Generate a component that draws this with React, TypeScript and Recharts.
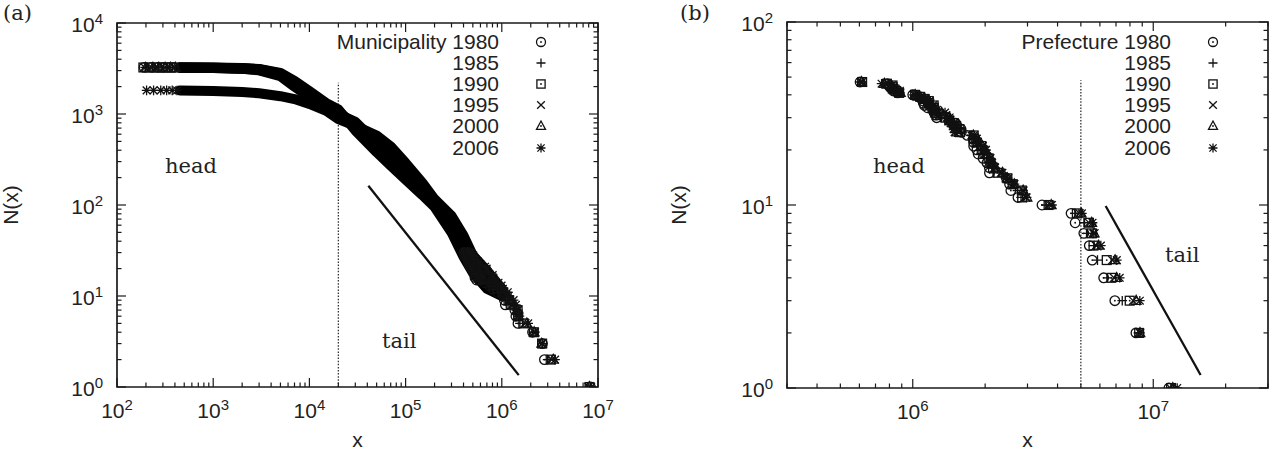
import React from 'react';
import {
  ScatterChart,
  Scatter,
  XAxis,
  YAxis,
  ReferenceLine,
  ReferenceArea,
  Legend,
  Customized,
} from 'recharts';

// ---------------- shared labels ----------------
const MARKER_KINDS = ['circle', 'plus', 'square', 'cross', 'triangle', 'star'];
const LEGEND_A = ['Municipality 1980', '1985', '1990', '1995', '2000', '2006'];
const LEGEND_B = ['Prefecture 1980', '1985', '1990', '1995', '2000', '2006'];

// ---------------- panel (a): municipalities ----------------
const A_X_MAJOR = [1e2, 1e3, 1e4, 1e5, 1e6, 1e7];
const A_Y_MAJOR = [1, 10, 100, 1000, 10000];

// smallest villages (x = population, N = rank from the top)
const A_HEAD_1980 = [[191, 3255], [226, 3254], [262, 3253], [298, 3252], [340, 3251], [390, 3250]];
const A_HEAD_1985 = [[196, 3253], [233, 3252], [270, 3251], [305, 3250], [352, 3249], [400, 3248]];
const A_HEAD_1990 = [[188, 3246], [220, 3245], [258, 3244], [296, 3243], [338, 3242], [392, 3241]];
const A_HEAD_1995 = [[194, 3234], [230, 3233], [266, 3232], [310, 3231], [348, 3230], [396, 3229]];
const A_HEAD_2000 = [[199, 3230], [236, 3229], [272, 3228], [316, 3227], [360, 3226], [405, 3225]];
const A_HEAD_2006 = [[203, 1820], [240, 1819], [285, 1818], [328, 1817], [375, 1816], [420, 1815]];

// dense body of the distribution: N(x) at sampled x
const A_BODY_X = [450, 1000, 2000, 3000, 5000, 7000, 10000, 15000, 20000, 30000, 50000, 70000, 100000, 150000, 200000, 300000, 400000, 500000, 700000, 1000000];
const A_BODY_1980 = [3250, 3236, 3195, 3125, 2830, 2320, 1780, 1320, 1120, 660, 380, 270, 190, 128, 95, 50, 27, 18, 12, 10];
const A_BODY_1985 = [3248, 3233, 3185, 3105, 2780, 2250, 1720, 1290, 1090, 700, 405, 290, 205, 135, 99, 54, 30, 19, 13, 11];
const A_BODY_1990 = [3241, 3224, 3170, 3080, 2730, 2180, 1660, 1260, 1060, 740, 430, 310, 220, 142, 103, 58, 33, 20, 14, 11];
const A_BODY_1995 = [3229, 3210, 3150, 3050, 2670, 2100, 1600, 1230, 1030, 780, 455, 330, 235, 150, 107, 62, 36, 22, 15, 11];
const A_BODY_2000 = [3225, 3204, 3135, 3020, 2600, 2000, 1540, 1200, 1000, 820, 480, 350, 250, 158, 111, 68, 40, 24, 16, 12];
const A_BODY_2006 = [1815, 1795, 1745, 1690, 1570, 1460, 1290, 1080, 880, 740, 580, 440, 290, 175, 116, 76, 46, 28, 19, 12];

// largest 30 municipalities (population, thousands)
const A_TOP_1980 = [8352, 2774, 2648, 2088, 1473, 1402, 1367, 1089, 1065, 1041, 899, 810, 746, 665, 546, 526, 524, 522, 505, 490, 479, 458, 457, 447, 446, 439, 418, 410, 410, 404];
const A_TOP_1985 = [8355, 2993, 2636, 2116, 1543, 1479, 1411, 1160, 1089, 1056, 1044, 818, 789, 700, 572, 555, 530, 522, 514, 509, 507, 482, 476, 468, 452, 449, 431, 421, 418, 413];
const A_TOP_1990 = [8164, 3220, 2624, 2155, 1672, 1477, 1461, 1237, 1174, 1086, 1026, 918, 829, 808, 594, 579, 537, 535, 533, 532, 518, 499, 486, 472, 466, 454, 444, 443, 443, 427];
const A_TOP_1995 = [7968, 3307, 2602, 2152, 1757, 1464, 1424, 1285, 1203, 1109, 1020, 971, 857, 803, 650, 616, 571, 562, 546, 541, 518, 503, 495, 488, 474, 470, 463, 461, 461, 454];
const A_TOP_2000 = [8135, 3427, 2599, 2171, 1822, 1493, 1468, 1341, 1250, 1126, 1011, 1008, 887, 792, 662, 627, 606, 582, 552, 551, 536, 515, 501, 478, 473, 470, 466, 465, 460, 443];
const A_TOP_2006 = [8490, 3580, 2629, 2215, 1881, 1525, 1475, 1401, 1327, 1176, 1154, 1025, 994, 924, 831, 814, 804, 723, 702, 696, 670, 604, 570, 560, 536, 514, 514, 503, 480, 473];

const A_CUT = [{ x: 2e4, y: 1 }, { x: 2e4, y: 2200 }];
const A_SLOPE = [{ x: 4.1e4, y: 163 }, { x: 1.5e6, y: 1.35 }];

// ---------------- panel (b): prefectures (population, thousands) ----------------
const B_X_MAJOR = [1e6, 1e7];
const B_Y_MAJOR = [1, 10, 100];

const B_1980 = [5576, 1524, 1422, 2082, 1257, 1252, 2035, 2558, 1792, 1849, 5420, 4735, 11618, 6924, 2451, 1103, 1119, 794, 804, 2084, 1960, 3447, 6222, 1687, 1080, 2527, 8473, 5145, 1209, 1087, 604, 785, 1871, 2739, 1587, 825, 1000, 1507, 831, 4553, 866, 1591, 1790, 1229, 1152, 1785, 1107];
const B_1985 = [5679, 1524, 1434, 2176, 1254, 1262, 2080, 2725, 1866, 1921, 5864, 5148, 11829, 7432, 2478, 1118, 1152, 818, 833, 2137, 2029, 3575, 6455, 1747, 1156, 2587, 8668, 5278, 1305, 1087, 616, 795, 1917, 2819, 1602, 835, 1023, 1530, 840, 4719, 880, 1594, 1838, 1250, 1176, 1819, 1179];
const B_1990 = [5644, 1483, 1417, 2249, 1227, 1258, 2104, 2845, 1935, 1966, 6405, 5555, 11856, 7980, 2475, 1120, 1165, 824, 853, 2157, 2067, 3671, 6691, 1793, 1222, 2602, 8735, 5405, 1375, 1074, 616, 781, 1926, 2850, 1573, 832, 1023, 1515, 825, 4811, 878, 1563, 1840, 1237, 1169, 1798, 1222];
const B_1995 = [5692, 1482, 1420, 2329, 1214, 1257, 2134, 2956, 1984, 2004, 6759, 5798, 11774, 8246, 2488, 1123, 1180, 827, 882, 2194, 2100, 3738, 6868, 1841, 1287, 2630, 8797, 5402, 1431, 1080, 615, 771, 1951, 2882, 1556, 832, 1027, 1507, 817, 4933, 884, 1545, 1860, 1231, 1176, 1794, 1273];
const B_2000 = [5683, 1476, 1416, 2365, 1189, 1244, 2127, 2986, 2005, 2025, 6938, 5926, 12064, 8490, 2476, 1121, 1181, 829, 888, 2215, 2108, 3767, 7043, 1857, 1343, 2644, 8805, 5551, 1443, 1070, 613, 762, 1951, 2879, 1528, 824, 1023, 1493, 814, 5016, 877, 1517, 1859, 1221, 1170, 1786, 1318];
const B_2006 = [5628, 1437, 1385, 2360, 1146, 1216, 2091, 2975, 2017, 2024, 7054, 6056, 12577, 8792, 2431, 1112, 1174, 822, 885, 2196, 2107, 3792, 7255, 1867, 1380, 2648, 8817, 5591, 1421, 1036, 607, 742, 1957, 2877, 1493, 810, 1012, 1468, 796, 5050, 866, 1479, 1842, 1210, 1153, 1753, 1362];

const B_CUT = [{ x: 5e6, y: 1 }, { x: 5e6, y: 48 }];
const B_SLOPE = [{ x: 6.34e6, y: 9.87 }, { x: 1.574e7, y: 1.178 }];

// ---------------- table building ----------------
const pairs = (arr: number[][]) => arr.map(([x, y]) => ({ x, y }));
const ranked = (popsK: number[]) =>
  [...popsK].sort((a, b) => b - a).map((v, i) => ({ x: v * 1000, y: i + 1 }));
const body = (ns: number[]) => ns.map((n, i) => ({ x: A_BODY_X[i], y: n }));

const A_SERIES = [
  [...pairs(A_HEAD_1980), ...ranked(A_TOP_1980)],
  [...pairs(A_HEAD_1985), ...ranked(A_TOP_1985)],
  [...pairs(A_HEAD_1990), ...ranked(A_TOP_1990)],
  [...pairs(A_HEAD_1995), ...ranked(A_TOP_1995)],
  [...pairs(A_HEAD_2000), ...ranked(A_TOP_2000)],
  [...pairs(A_HEAD_2006), ...ranked(A_TOP_2006)],
];
const A_BODIES = [A_BODY_1980, A_BODY_1985, A_BODY_1990, A_BODY_1995, A_BODY_2000, A_BODY_2006].map(body);
const B_SERIES = [B_1980, B_1985, B_1990, B_1995, B_2000, B_2006].map(ranked);

function logTicks(lo: number, hi: number) {
  const out: number[] = [];
  for (let e = Math.floor(Math.log10(lo)); e <= Math.ceil(Math.log10(hi)); e++) {
    for (let m = 1; m <= 9; m++) {
      const v = Number((m * Math.pow(10, e)).toPrecision(6));
      if (v >= lo * 0.9999 && v <= hi * 1.0001) out.push(v);
    }
  }
  return out;
}

// ---------------- styling ----------------
const SANS = '"Liberation Sans", Arial, Helvetica, sans-serif';
const SERIF = '"DejaVu Serif", "Liberation Serif", serif';
const TXT = '#222';
const AXIS = '#1a1a1a';
const INK = '#111';
const ROW0 = 42;
const ROWH = 21.1;
const HEIGHT = 450;

function Marker({ kind, cx, cy, s = 4.8 }: { kind: string; cx: number; cy: number; s?: number }) {
  const sw = 1.3;
  const dot = <circle cx={cx} cy={cy} r={0.9} fill={INK} />;
  switch (kind) {
    case 'circle':
      return (
        <g>
          <circle cx={cx} cy={cy} r={s} fill="none" stroke={INK} strokeWidth={sw} />
          {dot}
        </g>
      );
    case 'plus':
      return <path d={`M${cx - s} ${cy}H${cx + s}M${cx} ${cy - s}V${cy + s}`} stroke={INK} strokeWidth={sw} fill="none" />;
    case 'square':
      return (
        <g>
          <rect x={cx - s + 0.4} y={cy - s + 0.4} width={2 * s - 0.8} height={2 * s - 0.8} fill="none" stroke={INK} strokeWidth={sw} />
          {dot}
        </g>
      );
    case 'cross': {
      const c = s * 0.85;
      return <path d={`M${cx - c} ${cy - c}L${cx + c} ${cy + c}M${cx - c} ${cy + c}L${cx + c} ${cy - c}`} stroke={INK} strokeWidth={sw} fill="none" />;
    }
    case 'triangle':
      return (
        <g>
          <path d={`M${cx} ${cy - s - 0.5}L${cx + s} ${cy + s * 0.75}L${cx - s} ${cy + s * 0.75}Z`} fill="none" stroke={INK} strokeWidth={sw} />
          {dot}
        </g>
      );
    default: {
      const c = s * 0.8;
      return (
        <path
          d={`M${cx - s} ${cy}H${cx + s}M${cx} ${cy - s}V${cy + s}M${cx - c} ${cy - c}L${cx + c} ${cy + c}M${cx - c} ${cy + c}L${cx + c} ${cy - c}`}
          stroke={INK}
          strokeWidth={sw}
          fill="none"
        />
      );
    }
  }
}

type Pt = { x: number; y: number };
type PanelCfg = {
  width: number;
  plot: { L: number; R: number; T: number; B: number };
  xDomain: [number, number];
  yDomain: [number, number];
  xMajor: number[];
  yMajor: number[];
  series: Pt[][];
  bodies: Pt[][];
  cut: Pt[];
  slope: Pt[];
  names: string[];
  legendRight: number;
  legendSym: number;
  letter: string;
  letterX: number;
  head: [number, number];
  tail: [number, number];
  yTitleX: number;
};

function Panel(cfg: PanelCfg) {
  const { width, plot, xDomain, yDomain, xMajor, yMajor } = cfg;
  const { L, R, T, B } = plot;
  // axes get 1px of room (an axis of size 0 is not drawn)
  const margin = { top: T, left: L - 1, right: width - R, bottom: HEIGHT - B - 1 };
  const xTicks = logTicks(xDomain[0], xDomain[1]);
  const yTicks = logTicks(yDomain[0], yDomain[1]);
  const isMajor = (list: number[], v: number) => list.some((m) => Math.abs(m - v) / m < 1e-6);

  const xTick = (props: any) => {
    const x = props.x;
    const v = props.payload.value;
    const major = isMajor(xMajor, v);
    const len = major ? 9 : 4.5;
    return (
      <g>
        <line x1={x} x2={x} y1={B} y2={B - len} stroke={AXIS} strokeWidth={1.2} />
        <line x1={x} x2={x} y1={T} y2={T + len} stroke={AXIS} strokeWidth={1.2} />
        {major && (
          <text x={x} y={B + 31} textAnchor="middle" fontFamily={SANS} fontSize={21} fill={TXT}>
            <tspan>10</tspan>
            <tspan dy={-8} fontSize={15}>
              {Math.round(Math.log10(v))}
            </tspan>
          </text>
        )}
      </g>
    );
  };

  const yTick = (props: any) => {
    const y = props.y;
    const v = props.payload.value;
    const major = isMajor(yMajor, v);
    const len = major ? 9 : 4.5;
    return (
      <g>
        <line x1={L} x2={L + len} y1={y} y2={y} stroke={AXIS} strokeWidth={1.2} />
        <line x1={R} x2={R - len} y1={y} y2={y} stroke={AXIS} strokeWidth={1.2} />
        {major && (
          <text x={L - 14} y={y + 9} textAnchor="end" fontFamily={SANS} fontSize={21} fill={TXT}>
            <tspan>10</tspan>
            <tspan dy={-8} fontSize={15}>
              {Math.round(Math.log10(v))}
            </tspan>
          </text>
        )}
      </g>
    );
  };

  const legendContent = (props: any) => {
    const items = (props.payload || []).filter((p: any) => p.type !== 'none' && cfg.names.includes(p.value));
    return (
      <div style={{ position: 'absolute', left: 0, top: 0 }}>
        {items.map((p: any) => {
          const i = cfg.names.indexOf(p.value);
          const cy = ROW0 + i * ROWH;
          return (
            <React.Fragment key={p.value}>
              <div
                style={{
                  position: 'absolute',
                  left: cfg.legendRight - 260,
                  top: cy - 12,
                  width: 260,
                  textAlign: 'right',
                  fontFamily: SANS,
                  fontSize: 21,
                  lineHeight: '24px',
                  color: TXT,
                  whiteSpace: 'nowrap',
                }}
              >
                {p.value}
              </div>
              <svg
                style={{ position: 'absolute', left: cfg.legendSym - 8, top: cy - 8, overflow: 'visible' }}
                width={16}
                height={16}
              >
                <Marker kind={MARKER_KINDS[i]} cx={8} cy={8} s={4.5} />
              </svg>
            </React.Fragment>
          );
        })}
      </div>
    );
  };

  const annotations = () => (
    <g>
      <text x={cfg.letterX} y={20} fontFamily={SERIF} fontSize={21} fill={TXT}>
        {cfg.letter}
      </text>
      <text x={cfg.head[0]} y={cfg.head[1]} fontFamily={SERIF} fontSize={21} fill={TXT}>
        head
      </text>
      <text x={cfg.tail[0]} y={cfg.tail[1]} fontFamily={SERIF} fontSize={21} fill={TXT}>
        tail
      </text>
      <text
        transform={`translate(${cfg.yTitleX},${(T + B) / 2}) rotate(-90)`}
        textAnchor="middle"
        fontFamily={SANS}
        fontSize={21}
        fill={TXT}
      >
        N(x)
      </text>
      <text x={(L + R) / 2} y={447} textAnchor="middle" fontFamily={SANS} fontSize={21} fill={TXT}>
        x
      </text>
    </g>
  );

  return (
    <ScatterChart width={width} height={HEIGHT} margin={margin}>
      <XAxis
        type="number"
        dataKey="x"
        scale="log"
        domain={xDomain}
        allowDataOverflow
        ticks={xTicks}
        interval={0}
        tick={xTick}
        tickLine={false}
        axisLine={false}
        tickSize={0}
        tickMargin={0}
        height={1}
      />
      <YAxis
        type="number"
        dataKey="y"
        scale="log"
        domain={yDomain}
        allowDataOverflow
        ticks={yTicks}
        interval={0}
        tick={yTick}
        tickLine={false}
        axisLine={false}
        tickSize={0}
        tickMargin={0}
        width={1}
      />
      <ReferenceArea
        x1={xDomain[0]}
        x2={xDomain[1]}
        y1={yDomain[0]}
        y2={yDomain[1]}
        fill="none"
        fillOpacity={0}
        stroke={AXIS}
        strokeWidth={1.7}
        ifOverflow="visible"
      />
      <ReferenceLine segment={cfg.cut} stroke="#333" strokeWidth={1.3} strokeDasharray="1.5 1.6" ifOverflow="visible" />
      <ReferenceLine segment={cfg.slope} stroke={INK} strokeWidth={2.3} ifOverflow="visible" />
      {cfg.bodies.map((d, i) => (
        <Scatter
          key={'body' + i}
          name={'body ' + i}
          data={d}
          legendType="none"
          isAnimationActive={false}
          line={{ stroke: '#000', strokeWidth: 10, strokeLinecap: 'round', strokeLinejoin: 'round' }}
          shape={() => <g />}
        />
      ))}
      {cfg.series.map((d, i) => (
        <Scatter
          key={'s' + i}
          name={cfg.names[i]}
          data={d}
          fill={INK}
          isAnimationActive={false}
          shape={(p: any) => <Marker kind={MARKER_KINDS[i]} cx={p.cx} cy={p.cy} />}
        />
      ))}
      <Legend
        content={legendContent}
        wrapperStyle={{ left: 0, top: 0, right: 'auto', bottom: 'auto', width: 0, height: 0, overflow: 'visible' }}
      />
      <Customized component={annotations} />
    </ScatterChart>
  );
}

const PANEL_A: PanelCfg = {
  width: 640,
  plot: { L: 117, R: 598, T: 23, B: 387 },
  xDomain: [1e2, 1e7],
  yDomain: [1, 1e4],
  xMajor: A_X_MAJOR,
  yMajor: A_Y_MAJOR,
  series: A_SERIES,
  bodies: A_BODIES,
  cut: A_CUT,
  slope: A_SLOPE,
  names: LEGEND_A,
  legendRight: 499,
  legendSym: 541,
  letter: '(a)',
  letterX: 3,
  head: [165, 173],
  tail: [382, 348],
  yTitleX: 18,
};

const PANEL_B: PanelCfg = {
  width: 635,
  plot: { L: 147, R: 628, T: 22, B: 388 },
  xDomain: [3e5, 3e7],
  yDomain: [1, 100],
  xMajor: B_X_MAJOR,
  yMajor: B_Y_MAJOR,
  series: B_SERIES,
  bodies: [],
  cut: B_CUT,
  slope: B_SLOPE,
  names: LEGEND_B,
  legendRight: 531,
  legendSym: 573,
  letter: '(b)',
  letterX: 40,
  head: [233, 173],
  tail: [525, 262],
  yTitleX: 46,
};

export default function App() {
  return (
    <div style={{ position: 'absolute', left: 0, top: 0, width: 1275, height: 450, background: '#fff', overflow: 'hidden' }}>
      <div style={{ position: 'absolute', left: 0, top: 0 }}>
        <Panel {...PANEL_A} />
      </div>
      <div style={{ position: 'absolute', left: 640, top: 0 }}>
        <Panel {...PANEL_B} />
      </div>
    </div>
  );
}
